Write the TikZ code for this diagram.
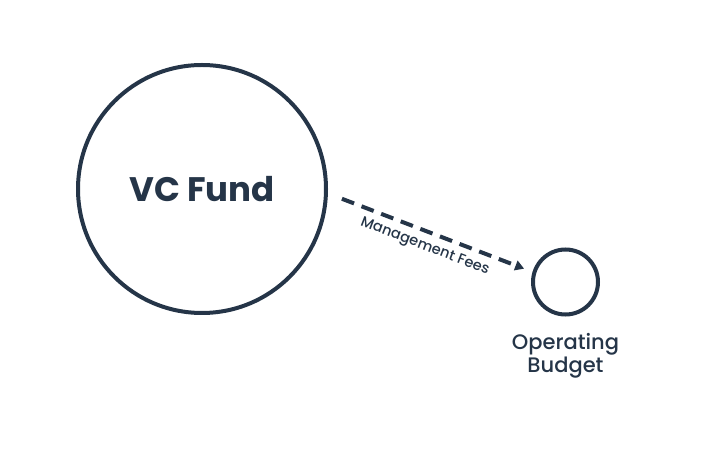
\documentclass[tikz,border=0pt]{standalone}
\usepackage{fontspec}
\setmainfont{Poppins}
\newfontfamily\medfont{Poppins Medium}
\usetikzlibrary{arrows.meta,positioning}
\definecolor{navy}{HTML}{253548}

\begin{document}
\begin{tikzpicture}[
	x=1pt, y=-1pt,
	>={Triangle[length=9pt,width=10pt]},
	every node/.style={text=navy},
	pot/.style={draw=navy, line width=4pt, circle, inner sep=0pt},
	fee/.style={->, draw=navy, line width=4pt, dash pattern=on 13pt off 8pt},
	lbl/.style={align=center, font=\medfont\fontsize{21}{23.5}\selectfont}
	]
	\useasboundingbox (0,0) rectangle (726,454);
	
	%--- the two pots of money ---
	\node[pot, minimum size=248pt, font=\fontsize{34}{38}\selectfont\bfseries] (fund) at (202,189) {VC Fund};
	\node[pot, minimum size=65pt] (budget) at (565.5,282) {};
	\node[lbl, below=13pt of budget] (budgetlbl) {Operating\\Budget};
	
	%--- fee flow ---
	\draw[fee, shorten <=15pt, shorten >=9pt] (fund.-2) -- node[sloped, below=3pt, font=\medfont\fontsize{14.5}{16}\selectfont] {Management Fees} (budget.163);
	
\end{tikzpicture}
\end{document}
